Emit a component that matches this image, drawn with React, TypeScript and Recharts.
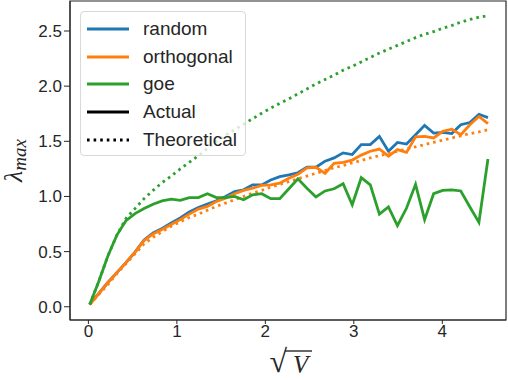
import { Line, LineChart, ReferenceArea, XAxis, YAxis } from 'recharts';

// sqrt(V) sample points
const xs = [
  0.015, 0.117, 0.22, 0.322, 0.424, 0.527, 0.629, 0.731, 0.833, 0.936, 1.038, 1.14, 1.243, 1.345, 1.447,
  1.55, 1.652, 1.754, 1.856, 1.959, 2.061, 2.163, 2.266, 2.368, 2.47, 2.572, 2.675, 2.777, 2.879, 2.982,
  3.084, 3.186, 3.289, 3.391, 3.493, 3.596, 3.698, 3.8, 3.902, 4.005, 4.107, 4.209, 4.312, 4.414, 4.516,
];

const randomActual = [
  0.025, 0.12, 0.22, 0.31, 0.4, 0.495, 0.605, 0.67, 0.71, 0.76, 0.805, 0.86, 0.9, 0.93, 0.96,
  1.0, 1.045, 1.06, 1.105, 1.105, 1.15, 1.18, 1.195, 1.215, 1.265, 1.265, 1.32, 1.35, 1.395, 1.38,
  1.47, 1.47, 1.545, 1.41, 1.49, 1.475, 1.56, 1.645, 1.575, 1.58, 1.57, 1.65, 1.67, 1.745, 1.715,
];

const orthoActual = [
  0.02, 0.12, 0.22, 0.31, 0.4, 0.495, 0.6, 0.66, 0.7, 0.745, 0.79, 0.84, 0.885, 0.91, 0.955,
  0.985, 1.025, 1.055, 1.075, 1.1, 1.105, 1.12, 1.165, 1.2, 1.26, 1.265, 1.21, 1.3, 1.31, 1.33,
  1.375, 1.41, 1.43, 1.365, 1.425, 1.4, 1.54, 1.545, 1.53, 1.59, 1.61, 1.56, 1.65, 1.725, 1.66,
];

const orthoTheory = [
  0.02, 0.11, 0.2, 0.3, 0.39, 0.48, 0.57, 0.63, 0.68, 0.73, 0.77, 0.81, 0.84, 0.875, 0.91,
  0.94, 0.97, 1.0, 1.03, 1.055, 1.085, 1.11, 1.135, 1.16, 1.185, 1.21, 1.235, 1.26, 1.28, 1.305,
  1.325, 1.35, 1.37, 1.39, 1.41, 1.43, 1.45, 1.47, 1.49, 1.51, 1.53, 1.55, 1.57, 1.585, 1.605,
];

const goeActual = [
  0.02, 0.23, 0.46, 0.65, 0.78, 0.845, 0.89, 0.93, 0.96, 0.975, 0.965, 0.99, 0.99, 1.025, 0.99,
  0.99, 1.0, 0.97, 1.015, 1.025, 0.98, 0.98, 1.07, 1.16, 1.075, 0.995, 1.05, 1.07, 1.115, 0.925,
  1.17, 1.105, 0.84, 0.905, 0.735, 0.895, 1.11, 0.79, 1.025, 1.055, 1.06, 1.05, 0.905, 0.765, 1.34,
];

const goeTheory = [
  0.02, 0.23, 0.46, 0.65, 0.8, 0.89, 0.98, 1.055, 1.125, 1.185, 1.25, 1.31, 1.37, 1.435, 1.5,
  1.555, 1.605, 1.655, 1.705, 1.755, 1.8, 1.845, 1.885, 1.93, 1.975, 2.02, 2.06, 2.1, 2.145, 2.18,
  2.22, 2.26, 2.3, 2.335, 2.37, 2.405, 2.44, 2.47, 2.495, 2.525, 2.55, 2.58, 2.605, 2.625, 2.64,
];

const xTicks = [0, 1, 2, 3, 4];
const yTicks = [0, 0.5, 1, 1.5, 2, 2.5];
const X_DOMAIN: [number, number] = [-0.208, 4.72];
const Y_DOMAIN: [number, number] = [-0.12, 2.772];

const BLUE = '#1f77b4';
const ORANGE = '#ff7f0e';
const GREEN = '#2ca02c';
const INK = '#262626';
const DOTS = '2.6 4';

const legendItems = [
  { label: 'random', color: BLUE, dash: undefined },
  { label: 'orthogonal', color: ORANGE, dash: undefined },
  { label: 'goe', color: GREEN, dash: undefined },
  { label: 'Actual', color: '#000', dash: undefined },
  { label: 'Theoretical', color: '#000', dash: DOTS },
];

const data = xs.map((x, i) => ({
  x,
  random: randomActual[i],
  ortho: orthoActual[i],
  orthoT: orthoTheory[i],
  goe: goeActual[i],
  goeT: goeTheory[i],
}));

const tickStyle = { fontSize: 17, fill: INK, fontFamily: '"Liberation Sans", Arial, sans-serif' };

function YLabel({ viewBox }: any) {
  const cx = 22;
  const cy = viewBox.y + viewBox.height / 2;
  return (
    <text
      x={cx}
      y={cy}
      transform={`rotate(-90, ${cx}, ${cy})`}
      textAnchor="middle"
      fill={INK}
      fontFamily='"Liberation Serif", serif'
      fontStyle="italic"
    >
      <tspan fontSize={26}>λ</tspan>
      <tspan fontSize={19} dy={4}>max</tspan>
    </text>
  );
}

function XLabel({ viewBox }: any) {
  const cx = viewBox.x + viewBox.width / 2;
  return (
    <g fill={INK} fontFamily='"Liberation Serif", serif'>
      <text x={cx - 1} y={372} textAnchor="end" fontSize={32}>√</text>
      <line x1={cx - 3} x2={cx + 24} y1={351} y2={351} stroke={INK} strokeWidth={1.4} />
      <text x={cx + 5} y={373} fontSize={25} fontStyle="italic">V</text>
    </g>
  );
}

function LegendBox() {
  return (
    <div
      style={{
        position: 'absolute',
        left: 80,
        top: 11,
        width: 166,
        height: 145,
        boxSizing: 'border-box',
        border: '1px solid #d9d9d9',
        borderRadius: 4,
        background: 'rgba(255,255,255,0.8)',
        padding: '3px 0 0 6px',
        fontFamily: '"Liberation Sans", Arial, sans-serif',
        fontSize: 19,
        color: INK,
      }}
    >
      {legendItems.map((it) => (
        <div key={it.label} style={{ display: 'flex', alignItems: 'center', height: 27.7 }}>
          <svg width={42} height={6} style={{ marginRight: 14 }}>
            <line x1={0} x2={42} y1={3} y2={3} stroke={it.color} strokeWidth={2.8} strokeDasharray={it.dash} />
          </svg>
          <span>{it.label}</span>
        </div>
      ))}
    </div>
  );
}

export default function App() {
  return (
    <div style={{ position: 'absolute', left: 0, top: 0, width: 508, height: 380, background: '#fff' }}>
      <LineChart width={508} height={380} data={data} margin={{ top: 1, right: 2, left: 0, bottom: 0 }}>
        <XAxis
          dataKey="x"
          type="number"
          domain={X_DOMAIN}
          ticks={xTicks}
          allowDataOverflow
          height={60}
          stroke={INK}
          tickSize={4}
          tickMargin={1}
          tick={tickStyle}
          label={<XLabel />}
        />
        <YAxis
          type="number"
          domain={Y_DOMAIN}
          ticks={yTicks}
          allowDataOverflow
          width={70}
          stroke={INK}
          tickSize={6}
          tickMargin={2}
          tick={tickStyle}
          tickFormatter={(v: number) => v.toFixed(1)}
          label={<YLabel />}
        />
        <ReferenceArea
          x1={X_DOMAIN[0]}
          x2={X_DOMAIN[1]}
          y1={Y_DOMAIN[0]}
          y2={Y_DOMAIN[1]}
          fill="none"
          stroke={INK}
          strokeWidth={1.2}
          ifOverflow="visible"
        />
        <Line dataKey="random" stroke={BLUE} strokeWidth={2.8} dot={false} isAnimationActive={false} />
        <Line dataKey="ortho" stroke={ORANGE} strokeWidth={2.8} dot={false} isAnimationActive={false} />
        <Line dataKey="orthoT" stroke={ORANGE} strokeWidth={2.8} strokeDasharray={DOTS} dot={false} isAnimationActive={false} />
        <Line dataKey="goe" stroke={GREEN} strokeWidth={2.8} dot={false} isAnimationActive={false} />
        <Line dataKey="goeT" stroke={GREEN} strokeWidth={2.8} strokeDasharray={DOTS} dot={false} isAnimationActive={false} />
      </LineChart>
      <LegendBox />
    </div>
  );
}
